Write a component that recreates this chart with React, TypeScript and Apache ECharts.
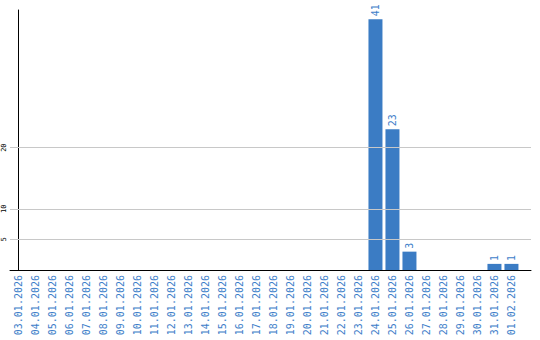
import React, { useEffect, useRef } from "react";
import * as echarts from "echarts";

const dates: string[] = [
  "03.01.2026", "04.01.2026", "05.01.2026", "06.01.2026", "07.01.2026",
  "08.01.2026", "09.01.2026", "10.01.2026", "11.01.2026", "12.01.2026",
  "13.01.2026", "14.01.2026", "15.01.2026", "16.01.2026", "17.01.2026",
  "18.01.2026", "19.01.2026", "20.01.2026", "21.01.2026", "22.01.2026",
  "23.01.2026", "24.01.2026", "25.01.2026", "26.01.2026", "27.01.2026",
  "28.01.2026", "29.01.2026", "30.01.2026", "31.01.2026", "01.02.2026",
];

const counts: number[] = [
  0, 0, 0, 0, 0, 0, 0, 0, 0, 0,
  0, 0, 0, 0, 0, 0, 0, 0, 0, 0,
  0, 41, 23, 3, 0, 0, 0, 0, 1, 1,
];

const yTickValues: number[] = [5, 10, 20];

const BLUE = "#3b7cc4";
const LABEL_BLUE = "#3d7ec9";

export default function App() {
  const ref = useRef<HTMLDivElement>(null);

  useEffect(() => {
    if (!ref.current) return;
    const chart = echarts.init(ref.current, undefined, { renderer: "svg" });
    const indices = dates.map((_, i) => i);
    const barData = counts.map((v, i) => [i, v]);
    chart.setOption({
      animation: false,
      grid: { left: 10, right: 9, top: 10, bottom: 70, containLabel: false },
      xAxis: {
        type: "value",
        min: -0.5,
        max: 30.15,
        axisLine: { show: true, lineStyle: { color: "#000", width: 1 } },
        axisTick: { show: false },
        splitLine: { show: false },
        axisLabel: {
          customValues: indices,
          formatter: (v: number) => dates[Math.round(v)] ?? "",
          rotate: 90,
          color: LABEL_BLUE,
          fontFamily: "DejaVu Sans Mono",
          fontSize: 10,
          margin: 5,
        },
      },
      yAxis: {
        type: "value",
        min: 0,
        max: 42.5,
        axisLine: { show: true, lineStyle: { color: "#000", width: 1 } },
        axisTick: { show: false },
        splitLine: { show: false },
        axisLabel: {
          customValues: yTickValues,
          rotate: 90,
          color: "#000",
          fontFamily: "DejaVu Sans Mono",
          fontSize: 7,
          margin: 3,
        },
      },
      series: [
        {
          type: "line",
          data: barData,
          showSymbol: false,
          symbol: "none",
          lineStyle: { width: 0, opacity: 0 },
          silent: true,
          z: 1,
          markLine: {
            silent: true,
            symbol: "none",
            label: { show: false },
            lineStyle: { color: "#c8c8c8", type: "solid", width: 1 },
            data: yTickValues.map((v) => ({ yAxis: v })),
          },
        },
        {
          type: "bar",
          data: barData,
          barWidth: 14,
          z: 3,
          itemStyle: { color: BLUE },
          label: {
            show: true,
            position: "top",
            rotate: 90,
            align: "left",
            verticalAlign: "middle",
            distance: 3,
            color: LABEL_BLUE,
            fontFamily: "DejaVu Sans Mono",
            fontSize: 10,
            formatter: (p: any) => (p.value[1] ? String(p.value[1]) : ""),
          },
        },
      ],
    });
    return () => chart.dispose();
  }, []);

  return (
    <div
      ref={ref}
      style={{ position: "fixed", left: 0, top: 0, width: 540, height: 340, background: "#fff" }}
    />
  );
}
